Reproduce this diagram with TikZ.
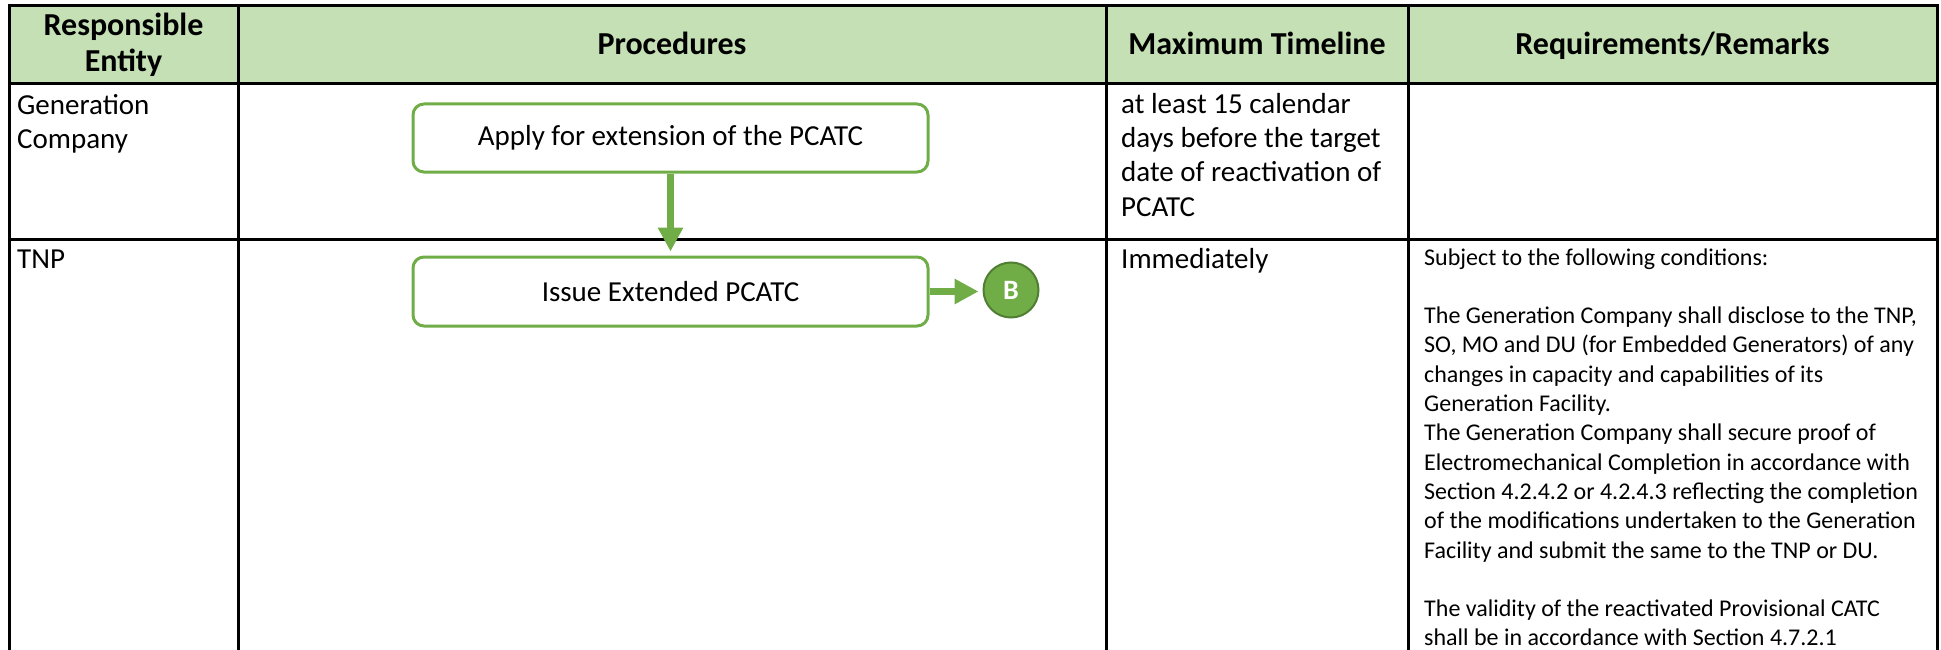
\documentclass[tikz,border=0pt]{standalone}
\usepackage{fontspec}
\setmainfont{Carlito}
\usetikzlibrary{arrows.meta}
\definecolor{hdr}{HTML}{C5E0B4}
\definecolor{grn}{HTML}{70AD47}
\definecolor{dgrn}{HTML}{507E32}
\begin{document}
\begin{tikzpicture}[x=1pt,y=-1pt,
  body/.style={font=\fontsize{29}{34}\selectfont, inner sep=0pt, anchor=base west},
  rem/.style={font=\fontsize{24}{29}\selectfont, inner sep=0pt, anchor=base west},
  head/.style={font=\bfseries\fontsize{32}{36}\selectfont, inner sep=0pt, anchor=base},
  procbox/.style={draw=grn, line width=3pt, rounded corners=11pt, fill=white,
    minimum width=515pt, minimum height=68pt, inner sep=0pt, font=\fontsize{29}{34}\selectfont},
  conn/.style={draw=grn, line width=7pt, -{Triangle[width=24pt,length=24pt]}},
  gridline/.style={line width=3pt, black, line cap=rect}]
\useasboundingbox (0,0) rectangle (1941,650);
% header fill
\fill[hdr] (9,6) rectangle (1937,84);
% grid
\draw[gridline] (9,6) -- (1937,6);
\draw[gridline] (9,84) -- (1937,84);
\draw[gridline] (9,239) -- (1937,239);
\foreach \cx in {9,238,1106,1408,1937} \draw[gridline] (\cx,6) -- (\cx,652);
% header texts
\node[head] (h1a) at (123.5,36) {Responsible};
\node[head] (h1b) at (123.5,72) {Entity};
\node[head] (h2) at (672,55) {Procedures};
\node[head] (h3) at (1257,55) {Maximum Timeline};
\node[head] (h4) at (1672.5,55) {Requirements/Remarks};
% entity column
\node[body] (e1a) at (17,115) {Generation};
\node[body] (e1b) at (17,149) {Company};
\node[body] (e2) at (17,268) {TNP};
% timeline column
\node[body] (t1a) at (1121,114) {at least 15 calendar};
\node[body] (t1b) at (1121,148) {days before the target};
\node[body] (t1c) at (1121,182) {date of reactivation of};
\node[body] (t1d) at (1121,216) {PCATC};
\node[body] (t2) at (1121,268) {Immediately};
% remarks column
\foreach \t [count=\i from 0] in {
  Subject to the following conditions:,
  {},
  {The Generation Company shall disclose to the TNP,},
  {SO, MO and DU (for Embedded Generators) of any},
  changes in capacity and capabilities of its,
  Generation Facility.,
  The Generation Company shall secure proof of,
  Electromechanical Completion in accordance with,
  Section 4.2.4.2 or 4.2.4.3 reflecting the completion,
  of the modifications undertaken to the Generation,
  Facility and submit the same to the TNP or DU.,
  {},
  The validity of the reactivated Provisional CATC,
  shall be in accordance with Section 4.7.2.1}
  \node[rem] (r\i) at (1424,{265+29.3*\i}) {\t};
% procedures
\node[procbox] (p1) at (670.5,138) {Apply for extension of the PCATC};
\node[procbox, minimum height=69pt] (p2) at (670.5,291.5) {Issue Extended PCATC};
\node[circle, fill=grn, draw=dgrn, line width=2pt, minimum size=55pt, inner sep=0pt,
  text=white, font=\bfseries\fontsize{28}{30}\selectfont] (B) at (1011,290) {B};
\draw[conn] (p1.south) -- ([yshift=4pt]p2.north);
\draw[conn] (p2.east) -- ([xshift=-4pt]B.west |- p2.east);
\end{tikzpicture}
\end{document}
